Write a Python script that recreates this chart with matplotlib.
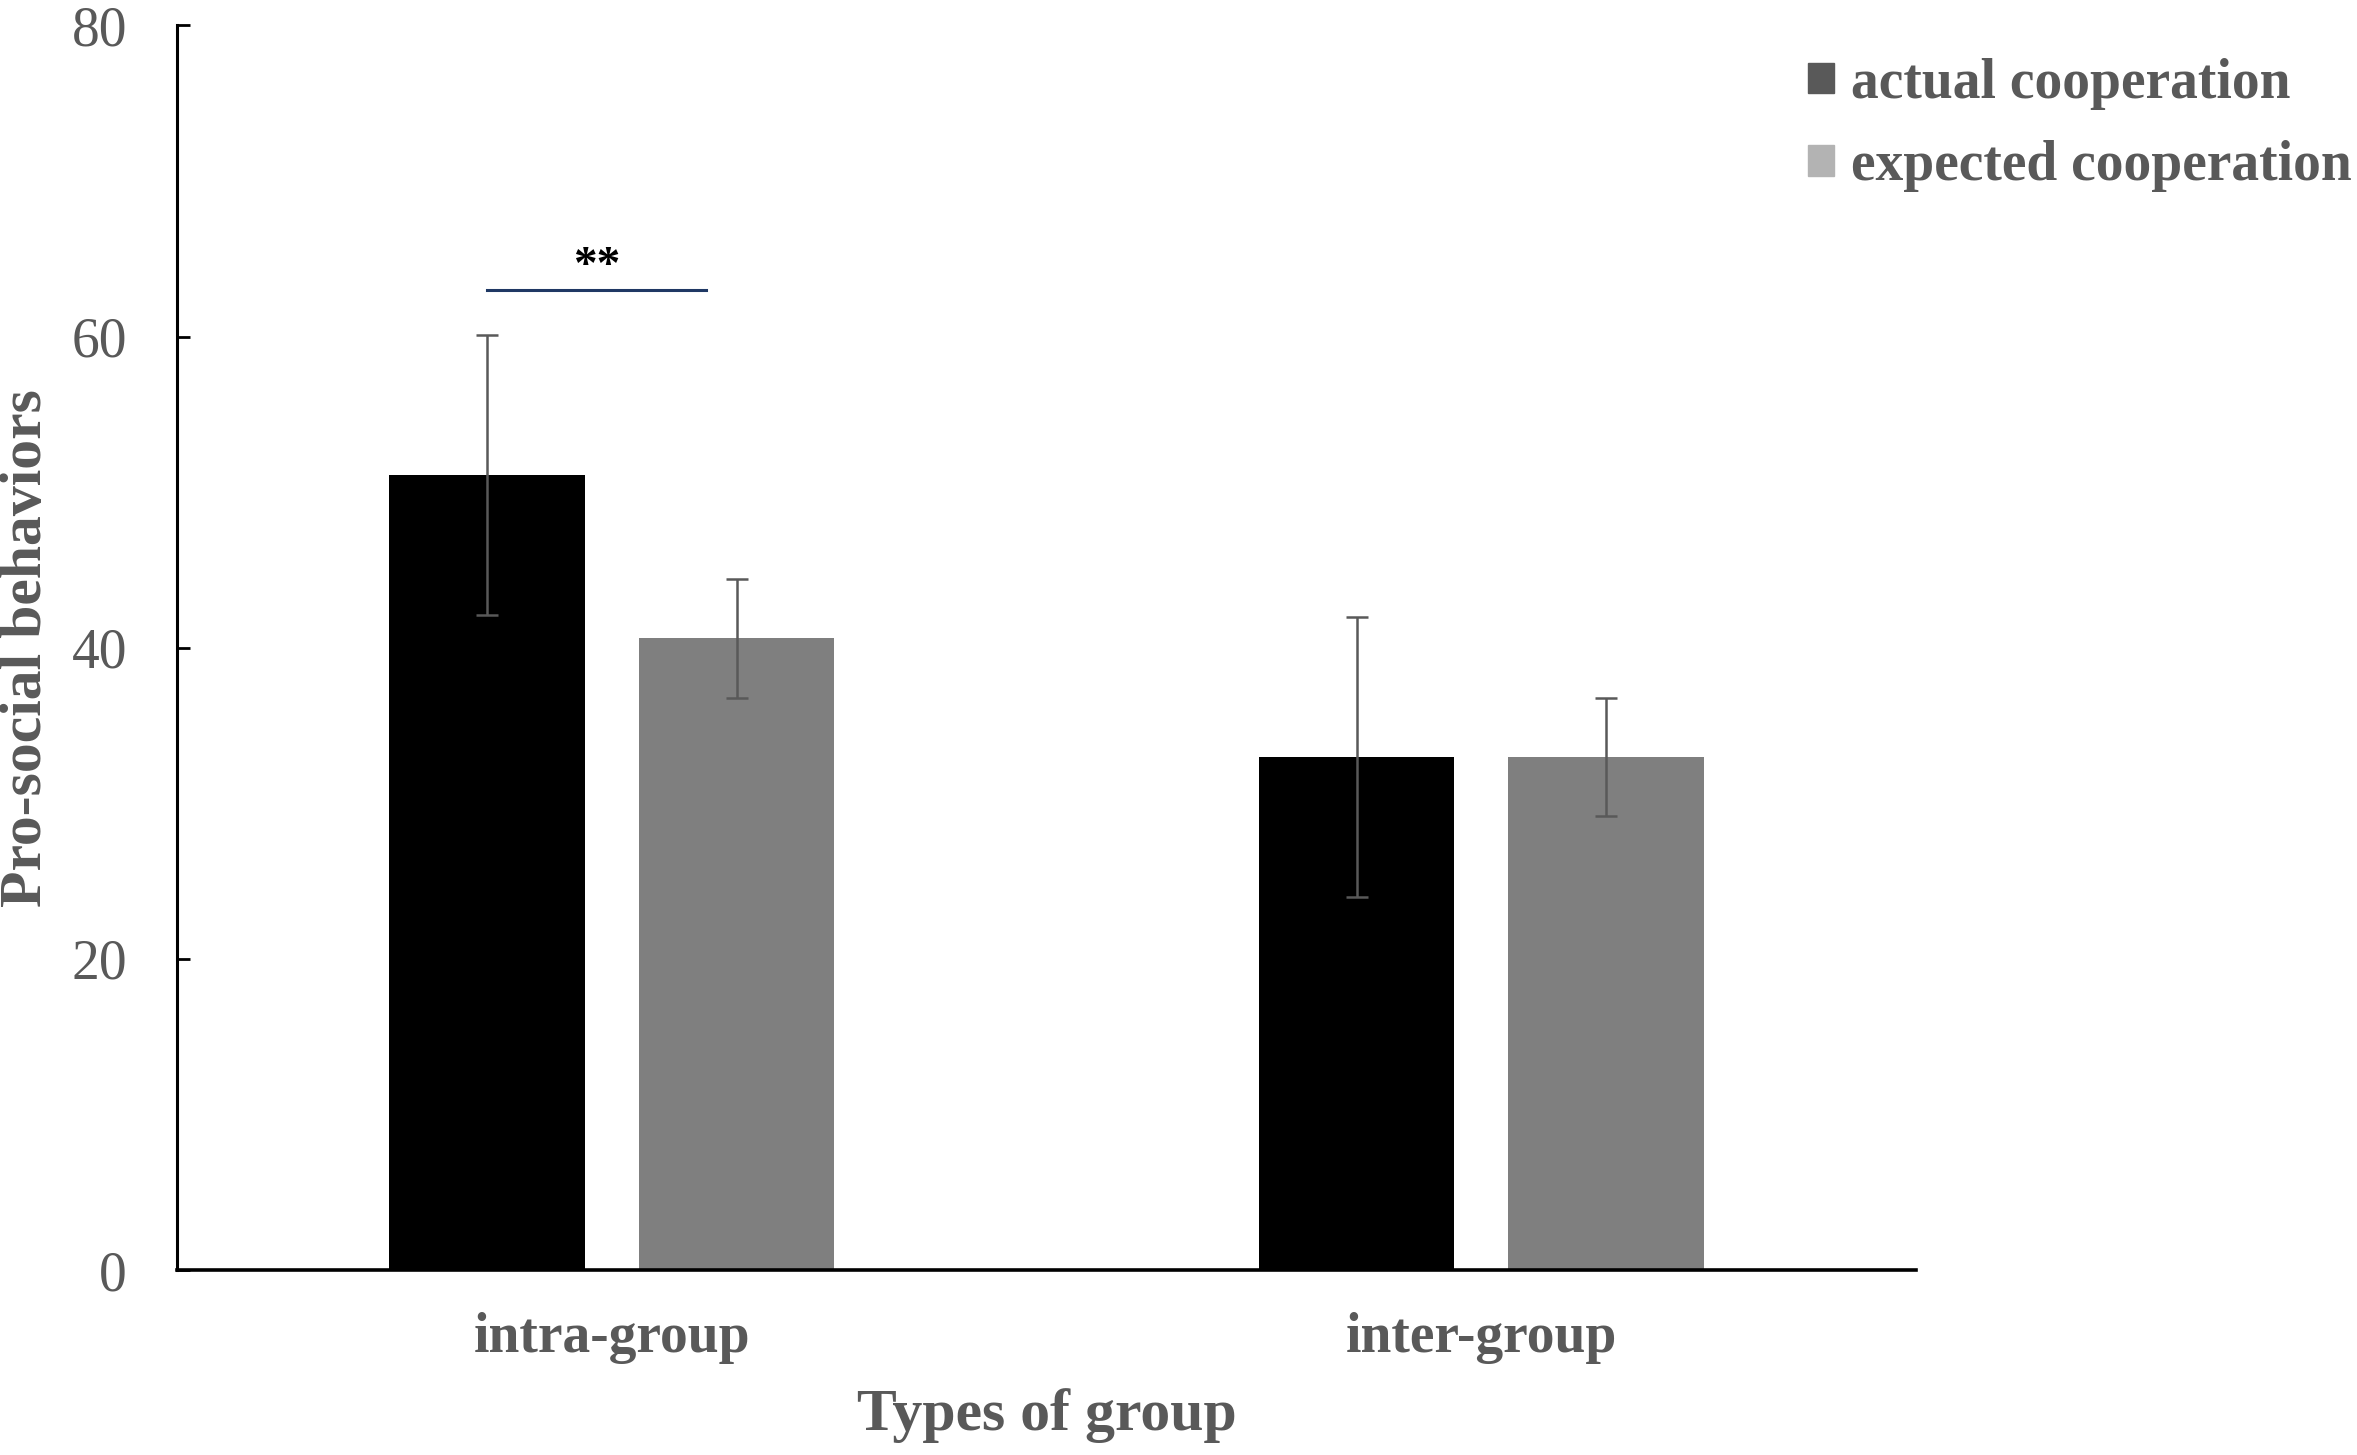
import matplotlib
matplotlib.use('Agg')
import matplotlib.pyplot as plt
from matplotlib.patches import Patch
import numpy as np

# group means and error bars
groups = ['intra-group', 'inter-group']
actual = [51.1, 33.0]
actual_err = [9.0, 9.0]
expected = [40.6, 33.0]
expected_err = [3.8, 3.8]
series_names = ['actual cooperation', 'expected cooperation']

plt.rcParams['font.family'] = ['Liberation Serif', 'DejaVu Serif']
txt_grey = '#595959'

fig = plt.figure(figsize=(23.57, 14.55), dpi=100)
ax = fig.add_axes([0.0751, 0.1271, 0.7379, 0.8554])

x = np.arange(len(groups))
w = 0.225
off = 0.1435
ax.bar(x - off, actual, w, color='black', zorder=2)
ax.bar(x + off, expected, w, color='#7f7f7f', zorder=2)
ax.errorbar(x - off, actual, yerr=actual_err, fmt='none', ecolor=txt_grey,
            elinewidth=1.8, capsize=8, capthick=1.8, zorder=3)
ax.errorbar(x + off, expected, yerr=expected_err, fmt='none', ecolor=txt_grey,
            elinewidth=1.8, capsize=8, capthick=1.8, zorder=3)

# significance marker over intra-group
ax.plot([x[0] - off, x[0] + off - 0.035], [63, 63], color='#1f3864', lw=2.2)
ax.text(x[0] - 0.018, 63.1, '**', ha='center', va='bottom', fontsize=34,
        fontweight='bold', color='black')

ax.set_xlim(-0.5, 1.5)
ax.set_ylim(0, 80)
ax.set_yticks([0, 20, 40, 60, 80])
ax.set_xticks(x)
ax.set_xticklabels(groups, fontsize=40, fontweight='bold', color=txt_grey)
ax.tick_params(axis='y', direction='in', length=9, width=2, pad=36,
               labelsize=40, labelcolor=txt_grey)
ax.tick_params(axis='x', length=0, pad=30)

for s in ['top', 'right']:
    ax.spines[s].set_visible(False)
ax.spines['left'].set_linewidth(2.2)
ax.spines['bottom'].set_linewidth(2.6)

ax.set_xlabel('Types of group', fontsize=43, fontweight='bold', color=txt_grey,
              va='center')
ax.xaxis.set_label_coords(0.5, -0.117)
ax.set_ylabel('Pro-social behaviors', fontsize=43, fontweight='bold',
              color=txt_grey, va='center')
ax.yaxis.set_label_coords(-0.0863, 0.5)

handles = [Patch(color='#595959'), Patch(color='#b3b3b3')]
leg = fig.legend(handles, series_names, loc='center left',
                 bbox_to_anchor=(0.767, 0.914), frameon=False,
                 prop={'size': 40, 'weight': 'bold'},
                 handlelength=0.47, handleheight=0.47, handletextpad=0.3,
                 labelspacing=0.55, borderpad=0, borderaxespad=0)
for t in leg.get_texts():
    t.set_color(txt_grey)

fig.savefig('out.png', dpi=100)
